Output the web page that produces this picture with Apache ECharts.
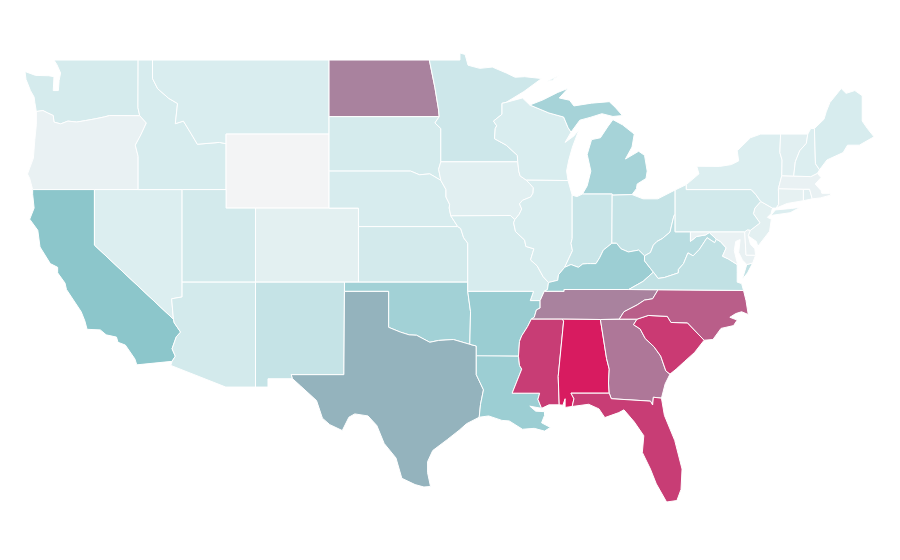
<!DOCTYPE html>
<html><head><meta charset="utf-8">
<style>html,body{margin:0;padding:0;background:#fff}#c{width:900px;height:560px}</style>
<script src="https://cdn.jsdelivr.net/npm/echarts@6/dist/echarts.min.js"></script>
</head><body><div id="c"></div>
<script>
const stateNames=['WA','OR','CA','NV','ID','MT','WY','UT','AZ','CO','NM','ND','SD','NE','KS','OK','TX','MN','IA','MO','AR','LA','WI','IL','MI','IN','OH','KY','TN','MS','AL','GA','SC','NC','FL','WV','VA','PA','NY','VT','NH','ME','MA','CT','RI','NJ','DE','MD'];
const stateValues=[12,4,49,9,11,10,0,13,13,6,20,70,12,11,13,38,56,16,7,11,42,41,10,10,36,18,20,41,70,90,100,73,91,80,90,26,22,14,9,7,9,11,4,5,7,6,4,4];
const colorStops=['#f3f4f5','#d9edef','#c5e3e6','#b1d9dd','#9ecfd4','#8ac5ca','#9aa7b4','#a9829e','#b95e89','#c83d75','#d81b60'];

const R=a=>a.slice().reverse();
// shared borders, lon/lat
const mnwi=[[-92.02,46.71],[-92.29,46.66],[-92.29,46.07],[-92.87,45.7],[-92.65,45.45],[-92.75,45.3],[-92.8,44.75],[-92.0,44.4],[-91.25,43.85],[-91.22,43.5]];
const iawi=[[-91.22,43.5],[-91.15,43.0],[-91.06,42.74],[-90.64,42.51]];
const iail=[[-90.64,42.51],[-90.42,42.33],[-90.16,42.1],[-90.18,41.81],[-90.34,41.6],[-90.9,41.42],[-91.1,41.23],[-90.95,40.95],[-91.12,40.67],[-91.42,40.38]];
const ilmo=[[-91.42,40.38],[-91.5,40.2],[-91.37,39.73],[-90.75,39.27],[-90.67,38.93],[-90.12,38.8],[-90.2,38.6],[-90.35,38.2],[-89.9,37.88],[-89.5,37.3],[-89.13,36.98]];
const ilky=[[-89.13,36.98],[-88.5,37.1],[-88.45,37.4],[-88.03,37.8]];
const inky=[[-88.03,37.8],[-87.6,37.95],[-87.1,37.8],[-86.8,37.98],[-86.5,38.0],[-86.25,38.0],[-85.9,38.0],[-85.65,38.32],[-85.4,38.73],[-84.82,39.1]];
const ohky=[[-84.82,39.1],[-84.5,39.1],[-84.2,38.8],[-83.7,38.63],[-83.0,38.73],[-82.6,38.42]];
const ohwv=[[-82.6,38.42],[-82.2,38.6],[-82.0,39.0],[-81.75,39.2],[-81.4,39.35],[-80.87,39.7],[-80.6,40.6],[-80.52,40.64]];
const kywv=[[-82.6,38.42],[-82.6,38.15],[-82.0,37.54]];
const kyva=[[-82.0,37.54],[-82.7,37.04],[-83.68,36.6]];
const kytn=[[-83.68,36.6],[-88.07,36.6],[-88.07,36.5],[-89.42,36.5]];
const kymo=[[-89.13,36.98],[-89.2,36.6],[-89.42,36.5]];
const tnmo=[[-89.42,36.5],[-89.7,36.0]];
const tnar=[[-89.7,36.0],[-89.7,35.6],[-89.95,35.5],[-90.1,35.1],[-90.3,35.0]];
const armo=[[-94.62,36.5],[-90.15,36.5],[-90.37,36.0],[-89.7,36.0]];
const arms=[[-90.3,35.0],[-90.55,34.6],[-90.95,34.1],[-91.1,33.8],[-91.17,33.0]];
const lams=[[-91.17,33.0],[-91.1,32.5],[-90.95,32.3],[-91.3,31.6],[-91.6,31.0],[-89.73,31.0],[-89.85,30.67],[-89.6,30.18]];
const wvva=[[-82.0,37.54],[-81.68,37.2],[-81.25,37.25],[-80.3,37.5],[-80.3,37.68],[-79.95,38.0],[-79.65,38.58],[-79.3,38.42],[-78.87,38.77],[-78.35,39.4],[-77.83,39.13],[-77.72,39.32]];
const wvmd=[[-77.72,39.32],[-78.2,39.68],[-78.45,39.55],[-79.05,39.47],[-79.48,39.2],[-79.48,39.72]];
const mdva=[[-77.72,39.32],[-77.45,39.2],[-77.05,38.85],[-77.3,38.4],[-76.9,38.25],[-76.3,37.95]];
const idor=[[-116.92,45.99],[-116.47,45.6],[-116.85,44.95],[-117.22,44.4],[-117.03,43.8],[-117.03,42]];
const orwa=[[-116.92,45.99],[-118.98,46.0],[-119.3,45.93],[-119.9,45.83],[-120.6,45.73],[-121.2,45.65],[-121.8,45.7],[-122.3,45.55],[-122.75,45.65],[-122.8,46.0],[-123.2,46.15],[-123.5,46.27],[-123.95,46.22]];
const idmt=[[-116.05,49],[-116.05,48.0],[-115.7,47.45],[-114.95,46.93],[-114.35,46.65],[-114.5,45.56],[-113.95,45.7],[-113.45,45.05],[-113.0,44.45],[-111.5,44.55],[-111.05,44.48]];
const cariver=[[-114.63,35.0],[-114.57,34.8],[-114.14,34.3],[-114.43,34.05],[-114.72,33.4],[-114.5,33.0],[-114.72,32.72]];
const red=[[-100,34.56],[-99.2,34.3],[-98.6,34.15],[-98.1,34.13],[-97.2,33.75],[-96.6,33.85],[-95.6,33.9],[-94.48,33.64]];
const sabine=[[-94.04,33.02],[-94.04,32.0],[-93.55,31.18],[-93.75,30.4],[-93.84,29.7]];
const alga=[[-85.6,34.98],[-85.18,32.87],[-85.0,32.3],[-85.05,31.55],[-85.0,31.0]];
const savannah=[[-83.11,35],[-83.35,34.7],[-82.9,34.47],[-82.55,33.95],[-81.95,33.5],[-81.5,33.0],[-81.15,32.2],[-80.87,32.03]];
const gafl=[[-85.0,31.0],[-84.86,30.7],[-82.2,30.57],[-82.05,30.36],[-82.0,30.78],[-81.45,30.73]];
const ncsc=[[-83.11,35],[-82.35,35.2],[-81.05,35.15],[-80.8,34.82],[-79.68,34.8],[-78.55,33.86]];
const nctn=[[-81.68,36.59],[-82.05,36.1],[-82.6,36.03],[-83.1,35.77],[-84.0,35.4],[-84.32,35]];
const mimain=[[-90.4,46.57],[-89.1,46.14],[-88.1,45.92],[-87.8,45.35],[-87.6,45.1]];
const moriver=[[-96.45,42.5],[-96.1,42.0],[-96.1,41.6],[-95.85,41.2],[-95.88,41.0],[-95.77,40.58]];
const moks=[[-95.77,40.58],[-95.3,40],[-95.1,39.9],[-94.9,39.4],[-94.62,39.1]];
const sdmn=[[-96.56,45.94],[-96.85,45.6],[-96.45,45.3],[-96.45,43.5]];
const sdia=[[-96.45,43.5],[-96.6,43.1],[-96.45,42.5]];
const ndmn=[[-97.23,49],[-96.85,47.5],[-96.6,46.3],[-96.56,45.94]];
const nepa=[[-74.7,41.36],[-75.1,41.0],[-75.2,40.7],[-74.75,40.2],[-75.4,39.8]];
const vtnh=[[-71.5,45],[-71.6,44.5],[-72.05,44.1],[-72.35,43.5],[-72.46,42.73]];

const shapes={
WA:[[[-122.75,49],[-117.03,49],[-117.04,46.42],[-116.92,45.99],...orwa.slice(1),[-124.0,46.27],[-124.05,46.7],[-124.1,47.0],[-124.35,47.35],[-124.65,47.95],[-124.72,48.38],[-124.0,48.17],[-123.1,48.15],[-122.75,48.1],[-122.8,47.35],[-122.45,47.35],[-122.4,47.9],[-122.3,48.3],[-122.55,48.75]]],
OR:[[...orwa,[-123.95,45.5],[-124.05,44.7],[-124.15,43.7],[-124.55,42.84],[-124.4,42.6],[-124.2,42],...R(idor)]],
CA:[[[-124.2,42],[-120,42],[-120,39],...cariver,[-117.12,32.53],[-117.25,32.85],[-117.9,33.6],[-118.4,33.75],[-118.5,34.03],[-119.2,34.15],[-119.6,34.42],[-120.5,34.45],[-120.65,34.9],[-120.9,35.4],[-121.9,36.6],[-122.0,36.95],[-122.5,37.5],[-122.5,37.8],[-123.0,38.0],[-123.7,38.9],[-123.85,39.8],[-124.4,40.4],[-124.1,41.0],[-124.2,41.75]]],
NV:[[[-120,42],[-114.04,42],[-114.04,36.2],[-114.75,36.1],[-114.63,35],[-120,39]]],
ID:[[[-117.03,49],...idmt,[-111.05,42],[-117.03,42],...R(idor),[-117.04,46.42]]],
MT:[[[-116.05,49],[-104.05,49],[-104.05,45],[-111.05,45],...R(idmt)]],
WY:[[[-111.05,45],[-104.05,45],[-104.05,41],[-111.05,41]]],
UT:[[[-114.04,42],[-111.05,42],[-111.05,41],[-109.05,41],[-109.05,37],[-114.04,37]]],
AZ:[[[-114.04,37],[-109.05,37],[-109.05,31.33],[-111.07,31.33],[-114.81,32.5],...R(cariver),[-114.75,36.1],[-114.04,36.2]]],
CO:[[[-109.05,41],[-102.05,41],[-102.05,37],[-109.05,37]]],
NM:[[[-109.05,37],[-103,37],[-103.04,32],[-106.62,32],[-106.53,31.78],[-108.2,31.78],[-108.2,31.33],[-109.05,31.33]]],
ND:[[[-104.05,49],...ndmn,[-104.05,45.94]]],
SD:[[[-104.05,45.94],...sdmn,...sdia.slice(1),[-97.2,42.85],[-97.9,42.8],[-98.5,43],[-104.05,43]]],
NE:[[[-104.05,43],[-98.5,43],[-97.9,42.8],[-97.2,42.85],...moriver,[-95.3,40],[-102.05,40],[-102.05,41],[-104.05,41]]],
KS:[[[-102.05,40],...moks.slice(1),[-94.62,37],[-102.05,37]]],
OK:[[[-103,37],[-94.62,37],[-94.62,36.5],[-94.43,35.4],...R(red),[-100,36.5],[-103,36.5]]],
TX:[[[-103,36.5],[-100,36.5],...red,[-94.04,33.55],...sabine,[-94.7,29.35],[-95.2,29.0],[-96.0,28.5],[-97.0,27.9],[-97.35,27.3],[-97.35,26.7],[-97.15,25.96],[-97.6,25.93],[-98.2,26.06],[-99.1,26.4],[-99.5,27.5],[-100.3,28.28],[-100.8,29.25],[-101.4,29.77],[-102.3,29.88],[-102.7,29.7],[-103.15,28.98],[-104.0,29.3],[-104.5,29.65],[-104.9,30.6],[-106.0,31.4],[-106.53,31.78],[-106.62,32],[-103.04,32]]],
MN:[[[-97.23,49],[-95.15,49],[-95.15,49.38],[-94.8,49.3],[-94.6,48.72],[-93.8,48.55],[-92.95,48.62],[-92,48.3],[-91.4,48.07],[-90.75,48.1],[-89.6,48.0],[-90.8,47.3],...mnwi,...R(sdmn),...R(ndmn).slice(1)]],
IA:[[[-96.45,43.5],...iawi,...iail.slice(1),[-91.72,40.6],...R(moriver),...R(sdia)]],
MO:[[[-95.77,40.58],[-91.72,40.6],...ilmo,...kymo.slice(1),...tnmo.slice(1),...R(armo).slice(1),[-94.62,39.1],[-94.9,39.4],[-95.1,39.9],[-95.3,40]]],
AR:[[...armo,...tnar.slice(1),...arms.slice(1),[-94.04,33.0],[-94.04,33.55],[-94.48,33.64],[-94.43,35.4]]],
LA:[[[-94.04,33.02],...lams,[-90.4,30.3],[-90.0,30.03],[-89.4,30.0],[-89.4,29.8],[-89.6,29.4],[-89.0,29.15],[-89.4,28.95],[-90.1,29.1],[-90.9,29.05],[-91.8,29.5],[-92.3,29.53],[-93.2,29.77],...R(sabine)]],
WI:[[[-92.02,46.71],[-90.9,46.95],...mimain,[-88.0,44.55],[-87.4,44.9],[-87.05,45.25],[-87.5,44.3],[-87.75,43.6],[-87.9,43.0],[-87.8,42.49],...R(iawi),...R(mnwi)]],
IL:[[[-90.64,42.51],[-87.8,42.49],[-87.52,41.7],[-87.52,39.35],[-87.6,39.1],[-87.5,38.7],...R(ilky),...R(ilmo).slice(1),...R(iail).slice(1)]],
MI:[[[-86.82,41.76],[-84.8,41.76],[-84.8,41.7],[-83.45,41.73],[-83.15,42.05],[-83.1,42.3],[-82.5,42.6],[-82.42,43.0],[-82.6,43.85],[-83.0,44.07],[-83.9,43.65],[-83.45,44.3],[-83.3,45.0],[-84.1,45.5],[-84.75,45.78],[-85.1,45.4],[-85.6,44.8],[-86.2,44.7],[-86.5,43.9],[-86.25,43.0],[-86.5,42.2]],[...mimain,[-87.0,45.75],[-86.3,45.9],[-85.5,46.1],[-84.75,45.95],[-84.1,46.0],[-84.6,46.45],[-85.0,46.75],[-86.2,46.67],[-87.4,46.52],[-87.7,46.83],[-88.4,46.95],[-87.8,47.47],[-88.5,47.25],[-89.5,46.85]],[[-89.2,47.85],[-88.45,48.15],[-88.9,47.9]]],
IN:[[[-87.52,41.7],[-87.2,41.62],[-86.82,41.76],[-84.8,41.76],[-84.82,39.1],...R(inky).slice(1),[-87.5,38.7],[-87.6,39.1],[-87.52,39.35]]],
OH:[[[-84.8,41.7],[-83.45,41.73],[-82.7,41.5],[-81.7,41.5],[-80.52,41.98],[-80.52,40.64],...R(ohwv).slice(1),...R(ohky).slice(1)]],
KY:[[...ohky,...kywv.slice(1),...kyva.slice(1),...kytn.slice(1),...R(kymo).slice(1),...ilky.slice(1),...inky.slice(1)]],
TN:[[[-81.68,36.59],[-83.68,36.6],...kytn.slice(1),...tnmo.slice(1),...tnar.slice(1),[-88.2,35],[-85.6,34.98],...R(nctn)]],
MS:[[[-90.3,35],[-88.2,35],[-88.1,34.9],[-88.47,31.9],[-88.4,30.37],[-89.1,30.37],...R(lams),...R(arms).slice(1)]],
AL:[[[-88.2,35],...alga,[-87.6,31.0],[-87.4,30.7],[-87.52,30.28],[-88.0,30.23],[-88.0,30.7],[-88.15,30.35],[-88.4,30.37],[-88.47,31.9],[-88.1,34.9]]],
GA:[[...alga.slice(0,1),...savannah,[-81.2,31.5],...R(gafl),...R(alga).slice(1)]],
SC:[[...ncsc,[-79.2,33.2],[-79.9,32.7],[-80.45,32.3],...R(savannah)]],
NC:[[...nctn,...ncsc,[-77.95,33.9],[-77.4,34.5],[-76.55,34.65],[-76.3,34.95],[-76.8,35.1],[-76.4,35.3],[-76.0,35.4],[-75.55,35.25],[-75.7,36],[-75.87,36.55]]],
FL:[[[-87.6,31.0],...gafl,[-81.25,29.8],[-80.55,28.45],[-80.05,26.9],[-80.12,25.8],[-80.4,25.2],[-81.1,25.12],[-81.8,26.1],[-82.2,26.9],[-82.75,27.8],[-82.65,28.7],[-83.3,29.45],[-84.0,30.1],[-84.35,29.95],[-85.3,29.68],[-85.7,30.15],[-86.4,30.4],[-87.52,30.28],[-87.4,30.7]]],
WV:[[...ohwv,[-80.52,39.72],...R(wvmd),...R(wvva),...R(kywv)]],
VA:[[[-75.87,36.55],[-81.68,36.59],[-83.68,36.6],...R(kyva).slice(1),...wvva.slice(1),...mdva.slice(1),[-76.3,37.5],[-76.3,37.0],[-76.0,36.92]],[[-75.95,37.15],[-75.65,37.95],[-75.25,38.03],[-75.6,37.5]]],
MD:[[[-79.48,39.72],[-75.79,39.72],[-75.7,38.46],[-75.05,38.45],[-75.25,38.03],[-75.65,37.95],[-75.95,38.2],[-76.2,38.6],[-76.1,39.3],[-76.4,39.2],[-76.5,38.7],[-76.3,38.05],...R(mdva),...wvmd.slice(1)]],
DE:[[[-75.79,39.72],[-75.6,39.83],[-75.4,39.8],[-75.55,39.5],[-75.4,39.05],[-75.1,38.8],[-75.05,38.45],[-75.7,38.46]]],
NJ:[[[-74.7,41.36],[-73.9,41.0],[-74.0,40.7],[-74.25,40.5],[-73.98,40.4],[-74.1,39.75],[-74.9,38.93],[-75.0,39.2],[-75.55,39.5],...R(nepa)]],
PA:[[[-80.52,41.98],[-79.76,42.27],[-79.76,42],[-75.35,42],[-75.05,41.75],...nepa,[-75.6,39.83],[-75.79,39.72],[-80.52,39.72]]],
NY:[[[-79.76,42.27],[-78.9,42.85],[-79.05,43.26],[-77.5,43.25],[-76.7,43.35],[-76.2,43.55],[-76.3,44.1],[-75.4,44.8],[-74.7,45.0],[-73.35,45.0],[-73.4,44.0],[-73.25,43.6],[-73.27,42.75],[-73.5,42.05],[-73.48,41.2],[-73.65,41.0],[-73.9,41.0],[-74.7,41.36],[-75.05,41.75],[-75.35,42],[-79.76,42]],[[-74.02,40.6],[-73.7,40.9],[-72.6,40.98],[-72.0,41.05],[-72.7,40.75]]],
CT:[[[-73.48,41.2],[-73.5,42.05],[-71.8,42.02],[-71.8,41.4],[-72.9,41.25],[-73.65,41.0]]],
RI:[[[-71.8,42.02],[-71.38,42.02],[-71.2,41.5],[-71.8,41.4]]],
MA:[[[-73.5,42.05],[-73.27,42.75],[-72.46,42.73],[-71.3,42.7],[-70.85,42.88],[-70.6,42.65],[-71.0,42.3],[-70.6,41.95],[-70.55,41.8],[-70.0,41.8],[-70.05,42.05],[-69.95,41.7],[-70.65,41.55],[-71.2,41.5],[-71.38,42.02],[-71.8,42.02]]],
VT:[[[-73.35,45],...vtnh,[-73.27,42.75],[-73.25,43.6],[-73.4,44]]],
NH:[[[-71.5,45],[-71.3,45.3],[-71.05,45.3],[-70.98,43.4],[-70.7,43.07],[-70.85,42.88],[-71.3,42.7],...R(vtnh)]],
ME:[[[-71.05,45.3],[-70.4,45.8],[-70.25,46.2],[-70,46.7],[-69.23,47.46],[-68.9,47.2],[-68.3,47.35],[-67.8,47.07],[-67.8,45.7],[-67.45,45.3],[-67.0,44.85],[-68.0,44.4],[-68.8,44.4],[-69.1,44.0],[-70.2,43.6],[-70.7,43.07],[-70.98,43.4]]]
};
const usa={type:'FeatureCollection',features:Object.keys(shapes).map(n=>({type:'Feature',properties:{name:n},geometry:{type:'MultiPolygon',coordinates:shapes[n].map(r=>[r])}}))};
echarts.registerMap('USA',usa);
const chart=echarts.init(document.getElementById('c'),null,{renderer:'canvas'});
chart.setOption({
  animation:false,backgroundColor:'#fff',
  visualMap:{show:false,min:0,max:100,inRange:{color:colorStops}},
  tooltip:{show:false},
  series:[{type:'map',map:'USA',silent:true,left:25,top:53,width:849,height:449,aspectScale:0.795,
    label:{show:false},emphasis:{disabled:true},select:{disabled:true},
    itemStyle:{borderColor:'#fff',borderWidth:1},
    data:stateNames.map((n,i)=>({name:n,value:stateValues[i]}))}]
});
</script></body></html>
